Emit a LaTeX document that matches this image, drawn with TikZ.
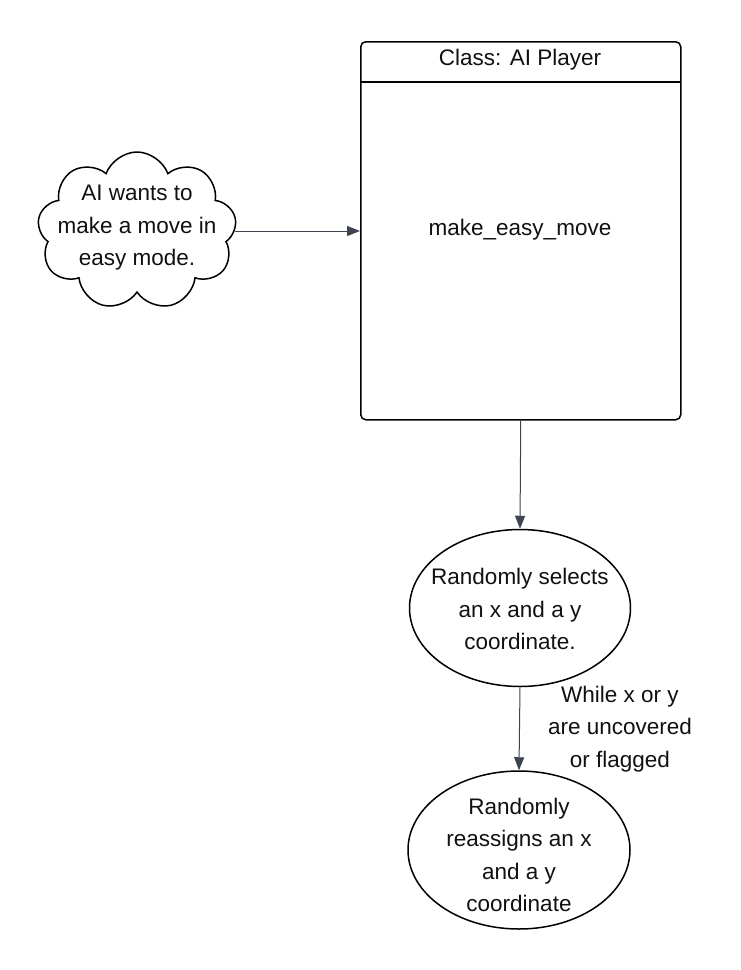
\documentclass[tikz,border=0pt]{standalone}
\usepackage{fontspec}
\setmainfont{Liberation Sans}
\usetikzlibrary{shapes.symbols,shapes.geometric,arrows.meta}
\definecolor{arrowc}{HTML}{3D4450}
\definecolor{txtc}{HTML}{111111}
\begin{document}
\begin{tikzpicture}[x=1pt,y=-1pt,
  txt/.style={font=\fontsize{22.5}{32.5}\selectfont, align=center, text=txtc, inner sep=0pt},
  conn/.style={draw=arrowc, line width=1pt, -{Triangle[length=13pt,width=10pt]}},
  shp/.style={draw=black, line width=1.5pt, fill=white}]
\useasboundingbox[fill=white] (0,0) rectangle (740,970);
% class box
\node[shp, rounded corners=5pt, minimum width=320pt, minimum height=378pt, anchor=north west, inner sep=0pt] (cls) at (360,41) {};
\coordinate (hl) at (360,82);
\coordinate (hr) at (680,82);
\draw[line width=1.5pt] (hl) -- (hr);
\node[txt] (title) at (520,60) {Class: AI Player};
\node[txt] (meth) at (520,230) {make\_easy\_move};
% cloud
\node[shp, cloud, cloud puffs=9, cloud puff arc=140, aspect=1.3, minimum width=199pt, minimum height=158pt, inner sep=0pt] (cloud) at (137,231) {};
\node[txt] (cloudtxt) at (137,228) {AI wants to\\make a move in\\easy mode.};
% ellipses
\node[shp, ellipse, minimum width=221pt, minimum height=157pt, inner sep=0pt] (e1) at (520,608) {};
\node[txt] (e1txt) at (520,609) {Randomly selects\\an x and a y\\coordinate.};
\node[shp, ellipse, minimum width=222pt, minimum height=158pt, inner sep=0pt] (e2) at (519,850) {};
\node[txt] (e2txt) at (519,855) {Randomly\\reassigns an x\\and a y\\coordinate};
% connectors
\draw[conn] (cloud.east) -- (cloud.east -| cls.west);
\draw[conn] (cls.south) -- (e1.north);
\draw[conn] (e1.south) -- (e2.north);
\node[txt] (lbl) at (620,729) {While x or y\\are uncovered\\or flagged};
\end{tikzpicture}
\end{document}
